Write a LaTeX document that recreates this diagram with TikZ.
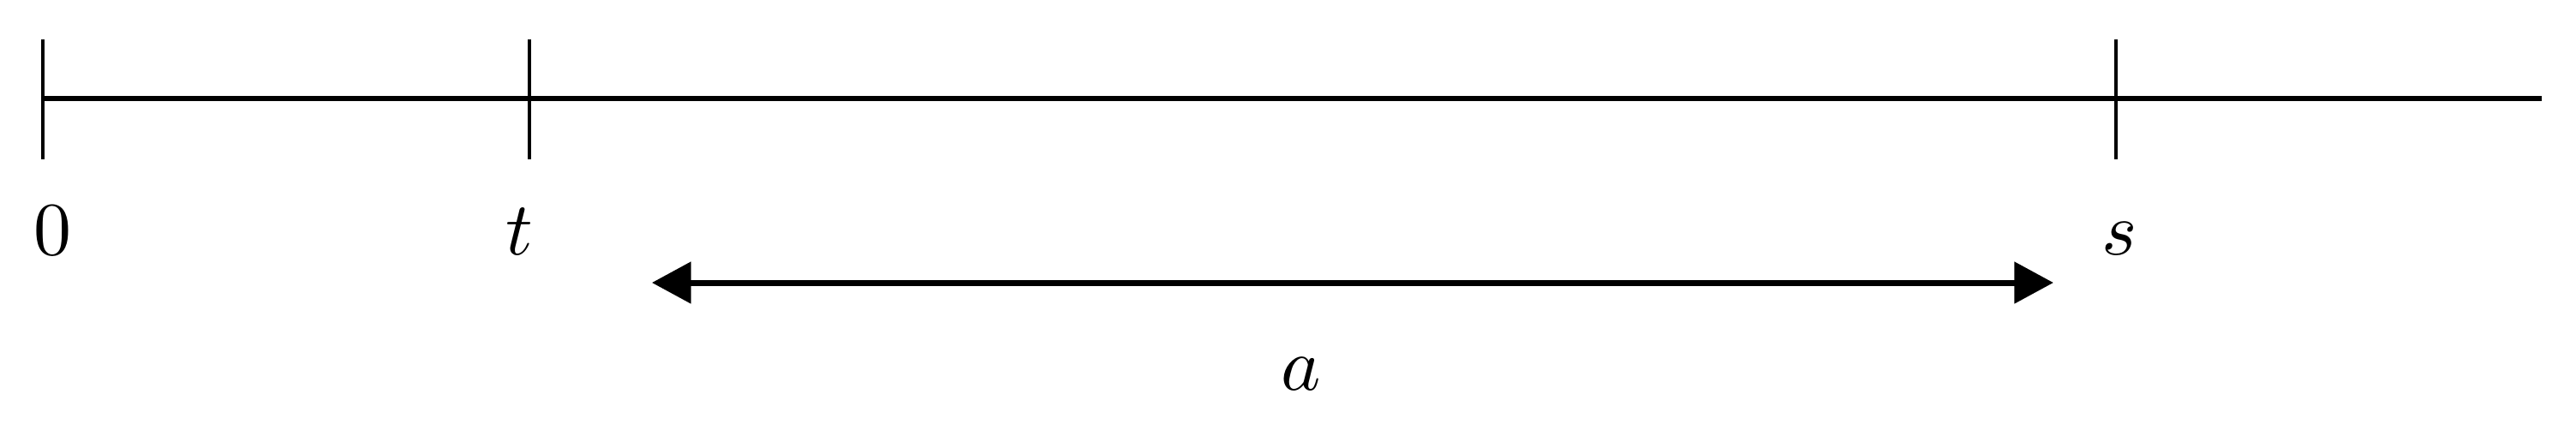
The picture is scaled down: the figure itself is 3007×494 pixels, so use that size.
\documentclass[tikz,border=0pt]{standalone}
\usepackage{amsmath}
\usetikzlibrary{arrows.meta}

\begin{document}
\begin{tikzpicture}[x=0.004cm,y=-0.004cm,
  axisline/.style={line width=0.6pt,black},
  tickline/.style={line width=0.5pt,black},
  spanarrow/.style={line width=0.8pt,black,{Triangle[length=5.2pt,width=5.4pt]}-{Triangle[length=5.2pt,width=5.4pt]}},
  ticklabel/.style={anchor=base,inner sep=0pt}]
\useasboundingbox (0,0) rectangle (3007,494);
% time axis
\coordinate (zero) at (50,115);
\coordinate (tpos) at (618,115);
\coordinate (spos) at (2470,115);
\coordinate (axisend) at (2967,115);
\draw[axisline] (zero)--(axisend);
% ticks
\foreach \p in {zero,tpos,spos}
  \draw[tickline] ([yshift=0.276cm]\p)--([yshift=-0.284cm]\p);
% labels
\node[ticklabel] (lzero) at (61,297){$0$};
\node[ticklabel] (lt) at (606,297){$t$};
\node[ticklabel] (ls) at (2474,297){$s$};
% interval a
\coordinate (aleft) at (761,330);
\coordinate (aright) at (2397,330);
\draw[spanarrow] (aleft)--(aright);
\node[ticklabel] (la) at (1519,455){$a$};
\end{tikzpicture}
\end{document}
